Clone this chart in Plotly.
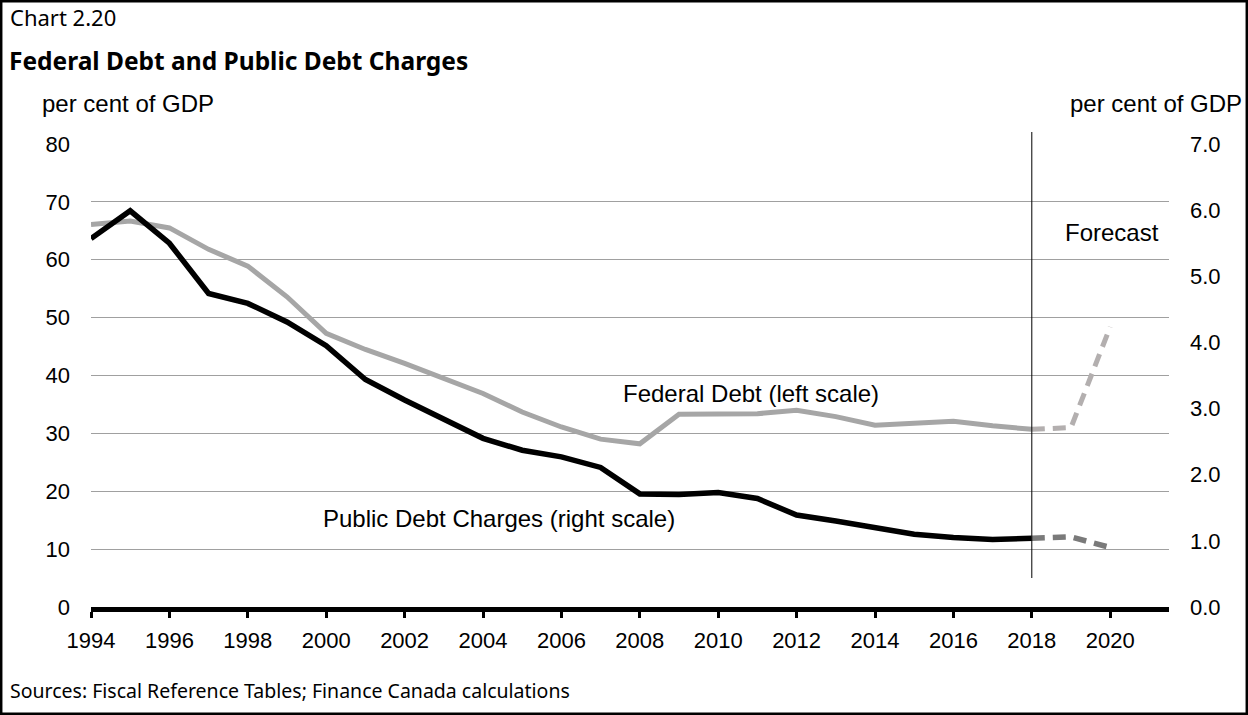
import plotly.graph_objects as go

# ---- data ----
years_actual = list(range(1994, 2019))
federal_debt = [66.1, 66.7, 65.5, 61.8, 58.9, 53.6, 47.3, 44.5, 42.1, 39.5,
                36.9, 33.7, 31.1, 29.0, 28.2, 33.3, 33.3, 33.4, 34.0, 32.9,
                31.4, 31.8, 32.1, 31.3, 30.7]
debt_charges = [5.57, 5.99, 5.50, 4.74, 4.59, 4.31, 3.95, 3.44, 3.13, 2.84,
                2.55, 2.37, 2.27, 2.11, 1.71, 1.70, 1.73, 1.64, 1.39, 1.30,
                1.21, 1.10, 1.05, 1.02, 1.04]
years_forecast = [2018, 2019, 2020]
federal_debt_fc = [30.7, 31.0, 48.4]
debt_charges_fc = [1.04, 1.06, 0.90]

x_ticks = list(range(1994, 2021, 2))
left_ticks = list(range(0, 81, 10))
right_ticks = [0, 1, 2, 3, 4, 5, 6, 7]
forecast_year = 2018

# ---- layout geometry (pixels) ----
W, H = 1248, 715
L, R, T, B = 91, 79, 144, 108
PW, PH = W - L - R, H - T - B
X_RANGE = [1994, 2021.5]


def px(x):
    return (x - L) / PW


def py(y):
    return (H - B - y) / PH


FONT = "Liberation Sans, Arial, sans-serif"
TFONT = "Noto Sans, Open Sans, sans-serif"

fig = go.Figure()
fig.add_trace(go.Scatter(x=years_actual, y=federal_debt, mode="lines",
                         line=dict(color="#a6a6a6", width=5), yaxis="y",
                         showlegend=False))
fig.add_trace(go.Scatter(x=years_forecast, y=federal_debt_fc, mode="lines",
                         line=dict(color="#b3afaf", width=5, dash="13px,8px"),
                         yaxis="y", showlegend=False))
fig.add_trace(go.Scatter(x=years_actual, y=debt_charges, mode="lines",
                         line=dict(color="#000000", width=5.5), yaxis="y2",
                         showlegend=False))
fig.add_trace(go.Scatter(x=years_forecast, y=debt_charges_fc, mode="lines",
                         line=dict(color="#7a7a7a", width=5.5, dash="13px,8px"),
                         yaxis="y2", showlegend=False))

xfrac = (forecast_year - X_RANGE[0]) / (X_RANGE[1] - X_RANGE[0])

shapes = [
    dict(type="line", xref="paper", yref="paper", x0=xfrac, x1=xfrac,
         y0=py(578), y1=py(132), line=dict(color="black", width=1)),
    dict(type="rect", xref="paper", yref="paper", x0=px(1.2), x1=px(1246.8),
         y0=py(713.8), y1=py(1.2), line=dict(color="black", width=2.5),
         fillcolor="rgba(0,0,0,0)"),
]

annotations = [
    dict(text="Chart 2.20", x=px(8), y=py(17), xanchor="left", yanchor="middle",
         font=dict(family=TFONT, size=22, color="black")),
    dict(text="<b>Federal Debt and Public Debt Charges</b>", x=px(7), y=py(60),
         xanchor="left", yanchor="middle",
         font=dict(family=TFONT, size=24.5, color="black")),
    dict(text="per cent of GDP", x=px(128), y=py(103), xanchor="center",
         yanchor="middle", font=dict(family=FONT, size=24, color="black")),
    dict(text="per cent of GDP", x=px(1156), y=py(103), xanchor="center",
         yanchor="middle", font=dict(family=FONT, size=24, color="black")),
    dict(text="Federal Debt (left scale)", x=px(751), y=py(393), xanchor="center",
         yanchor="middle", font=dict(family=FONT, size=24, color="black")),
    dict(text="Public Debt Charges (right scale)", x=px(499), y=py(518),
         xanchor="center", yanchor="middle",
         font=dict(family=FONT, size=24, color="black")),
    dict(text="Forecast", x=px(1112), y=py(232), xanchor="center",
         yanchor="middle", font=dict(family=FONT, size=24, color="black")),
    dict(text="Sources: Fiscal Reference Tables; Finance Canada calculations",
         x=px(8), y=py(690), xanchor="left", yanchor="middle",
         font=dict(family=TFONT, size=19.5, color="black")),
]
for a in annotations:
    a.update(xref="paper", yref="paper", showarrow=False)

fig.update_layout(
    width=W, height=H,
    margin=dict(l=L, r=R, t=T, b=B, pad=0),
    paper_bgcolor="white", plot_bgcolor="white",
    font=dict(family=FONT, size=22, color="black"),
    xaxis=dict(range=X_RANGE, tickvals=x_ticks, ticktext=[str(v) for v in x_ticks],
               showgrid=False, zeroline=False, showline=True, linecolor="black",
               linewidth=4.5, ticks="outside", ticklen=6, tickwidth=3,
               tickcolor="black", ticklabelstandoff=4,
               tickfont=dict(family=FONT, size=22, color="black")),
    yaxis=dict(range=[0, 80], tickvals=left_ticks, ticktext=[str(v) for v in left_ticks],
               showgrid=True, gridcolor="#a0a0a0", gridwidth=1, zeroline=False,
               showline=False, ticks="", ticklabelstandoff=20,
               tickfont=dict(family=FONT, size=22, color="black")),
    yaxis2=dict(range=[0, 7], tickvals=right_ticks,
                ticktext=[f"{v:.1f}" for v in right_ticks],
                overlaying="y", side="right", showgrid=False, zeroline=False,
                showline=False, ticks="", ticklabelstandoff=20,
                tickfont=dict(family=FONT, size=22, color="black")),
    shapes=shapes,
    annotations=annotations,
    showlegend=False,
)

fig.write_html("out.html",
               config={"displayModeBar": False},
               post_script="document.body.style.margin='0';"
                           "document.body.style.overflow='hidden';")
